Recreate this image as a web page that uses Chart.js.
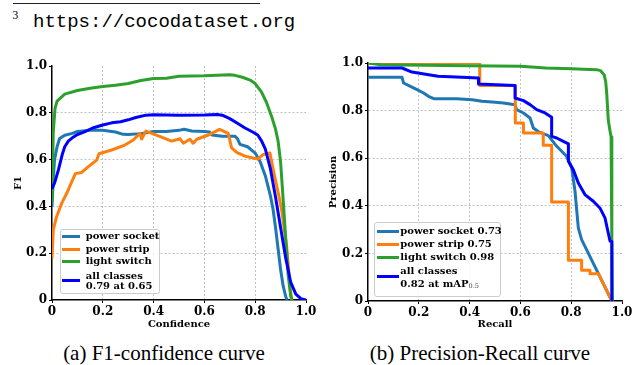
<!DOCTYPE html>
<html><head><meta charset="utf-8">
<script src="https://cdn.jsdelivr.net/npm/chart.js@4.4.1/dist/chart.umd.min.js"></script>
<style>
html,body{margin:0;padding:0;background:#fff;}
body{width:644px;height:365px;position:relative;overflow:hidden;}
.abs{position:absolute;}
#rule{left:13px;top:2.5px;width:247px;height:1px;background:#222;}
#fnmark{left:12.5px;top:9.7px;font:11.5px/11.5px 'Liberation Serif',serif;color:#000;}
#fnurl{left:33px;top:13px;font:19px/19px 'Liberation Mono',monospace;color:#000;white-space:nowrap;}
.cap{width:320px;text-align:center;font:21px/21px 'Liberation Serif',serif;color:#000;top:343.4px;white-space:nowrap;}
.legend{background:rgba(255,255,255,0.8);border:1px solid #cccccc;border-radius:3px;box-sizing:border-box;}
.lg-line{position:absolute;height:3px;}
.lg-text{position:absolute;font:bold 10px/12px 'DejaVu Serif',serif;color:#000;white-space:nowrap;}
.lg-text sub{font-size:6.5px;font-weight:normal;color:#444;vertical-align:-1px;}
</style></head><body>

<div id="rule" class="abs"></div>
<div id="fnmark" class="abs">3</div>
<div id="fnurl" class="abs">https://cocodataset.org</div>

<canvas id="c1" class="abs" width="320" height="280" style="left:0;top:50px;width:320px;height:280px"></canvas>
<canvas id="c2" class="abs" width="324" height="280" style="left:320px;top:50px;width:324px;height:280px"></canvas>

<div class="cap abs" style="left:4px">(a) F1-confidence curve</div>
<div class="cap abs" style="left:320px">(b) Precision-Recall curve</div>

<script>
// ---------- data ----------
const seriesNames = ['power socket', 'power strip', 'light switch', 'all classes'];
const seriesColors = ['#1f77b4', '#ff7f0e', '#2ca02c', '#0000ff'];
const apValues = ['0.73', '0.75', '0.98'];
const f1Best = '0.79 at 0.65';
const mapLabel = '0.82 at mAP';
const mapSub = '0.5';
const tickValues = [0, 0.2, 0.4, 0.6, 0.8, 1.0];
const tickLabels = ['0', '0.2', '0.4', '0.6', '0.8', '1.0'];

// F1 vs confidence: [confidence, F1]
const f1Socket = [[0,0.40],[0.005,0.52],[0.01,0.60],[0.02,0.655],[0.03,0.69],[0.05,0.704],[0.08,0.712],[0.1,0.72],[0.15,0.725],[0.2,0.725],[0.25,0.718],[0.28,0.708],[0.3,0.707],[0.35,0.711],[0.4,0.72],[0.45,0.72],[0.5,0.725],[0.52,0.73],[0.55,0.722],[0.6,0.72],[0.62,0.718],[0.63,0.705],[0.67,0.70],[0.72,0.70],[0.73,0.69],[0.74,0.665],[0.77,0.655],[0.8,0.628],[0.82,0.59],[0.84,0.53],[0.86,0.445],[0.87,0.39],[0.88,0.31],[0.89,0.22],[0.9,0.13],[0.91,0.06],[0.92,0.015],[0.926,0]];
const f1Strip = [[0,0.178],[0.005,0.3],[0.018,0.356],[0.038,0.413],[0.058,0.456],[0.078,0.506],[0.092,0.54],[0.117,0.545],[0.143,0.57],[0.176,0.598],[0.185,0.625],[0.235,0.641],[0.287,0.662],[0.32,0.684],[0.346,0.712],[0.353,0.688],[0.37,0.722],[0.419,0.701],[0.471,0.679],[0.504,0.689],[0.517,0.67],[0.543,0.687],[0.556,0.67],[0.57,0.687],[0.615,0.705],[0.66,0.729],[0.694,0.712],[0.707,0.65],[0.727,0.631],[0.76,0.615],[0.8,0.605],[0.81,0.602],[0.832,0.622],[0.858,0.628],[0.871,0.556],[0.891,0.456],[0.904,0.385],[0.924,0.228],[0.937,0.057],[0.944,0]];
const f1Switch = [[0,0.42],[0.005,0.72],[0.012,0.82],[0.02,0.85],[0.05,0.88],[0.1,0.895],[0.15,0.905],[0.2,0.912],[0.25,0.918],[0.3,0.925],[0.35,0.938],[0.4,0.947],[0.45,0.948],[0.5,0.956],[0.6,0.958],[0.7,0.963],[0.72,0.96],[0.75,0.952],[0.78,0.94],[0.8,0.925],[0.825,0.888],[0.845,0.843],[0.865,0.783],[0.88,0.73],[0.89,0.68],[0.9,0.59],[0.91,0.43],[0.92,0.265],[0.93,0.105],[0.94,0.015],[0.945,0]];
const f1All = [[0,0.475],[0.01,0.5],[0.025,0.555],[0.04,0.62],[0.05,0.655],[0.065,0.68],[0.08,0.693],[0.1,0.707],[0.13,0.72],[0.16,0.735],[0.2,0.748],[0.235,0.757],[0.27,0.762],[0.3,0.77],[0.33,0.78],[0.37,0.79],[0.4,0.792],[0.5,0.79],[0.6,0.791],[0.65,0.793],[0.67,0.79],[0.7,0.775],[0.73,0.755],[0.76,0.735],[0.79,0.718],[0.81,0.705],[0.825,0.68],[0.84,0.645],[0.86,0.56],[0.88,0.44],[0.9,0.31],[0.92,0.18],[0.94,0.075],[0.96,0.025],[0.98,0.006],[1.0,0]];

// Precision vs recall: [recall, precision]
const prSocket = [[0,0.94],[0.134,0.94],[0.14,0.916],[0.167,0.902],[0.193,0.888],[0.219,0.874],[0.238,0.86],[0.259,0.85],[0.35,0.85],[0.41,0.846],[0.449,0.839],[0.501,0.835],[0.533,0.832],[0.579,0.825],[0.585,0.804],[0.612,0.79],[0.638,0.769],[0.651,0.727],[0.67,0.712],[0.71,0.695],[0.743,0.65],[0.782,0.608],[0.802,0.559],[0.815,0.461],[0.828,0.307],[0.841,0.258],[0.96,0]];
const prStrip = [[0,1.0],[0.44,1.0],[0.44,0.905],[0.58,0.905],[0.58,0.748],[0.612,0.748],[0.612,0.706],[0.69,0.706],[0.69,0.654],[0.723,0.654],[0.723,0.416],[0.789,0.416],[0.789,0.171],[0.841,0.171],[0.841,0.129],[0.874,0.129],[0.874,0.115],[0.907,0.115],[0.96,0]];
const prSwitch = [[0,1.0],[0.05,0.993],[0.3,0.99],[0.6,0.986],[0.7,0.979],[0.8,0.976],[0.9,0.972],[0.915,0.968],[0.93,0.95],[0.936,0.92],[0.94,0.87],[0.946,0.76],[0.952,0.72],[0.957,0.69],[0.96,0.25],[0.962,0]];
const prAll = [[0,0.979],[0.134,0.979],[0.173,0.962],[0.239,0.951],[0.276,0.944],[0.37,0.94],[0.435,0.937],[0.435,0.912],[0.579,0.905],[0.579,0.853],[0.612,0.842],[0.638,0.825],[0.664,0.804],[0.697,0.79],[0.723,0.772],[0.723,0.692],[0.743,0.685],[0.769,0.671],[0.789,0.66],[0.789,0.587],[0.808,0.552],[0.828,0.496],[0.854,0.447],[0.887,0.419],[0.913,0.391],[0.933,0.349],[0.953,0.251],[0.96,0.25],[0.96,0]];

// ---------- chart building ----------
const tickFont = {family: "'DejaVu Serif', serif", size: 12, weight: 'bold'};
const titleFont = {family: "'DejaVu Serif', serif", size: 10, weight: 'bold', lineHeight: 1.2};

function axis(title, isX, size) {
  return {
    type: 'linear', min: 0, max: 1,
    afterBuildTicks: s => { s.ticks = tickValues.map(v => ({value: v})); },
    afterFit: s => { if (isX) s.height = size; else s.width = size; },
    ticks: {callback: (v, i) => tickLabels[i], font: tickFont, color: '#000', padding: 2, maxRotation: 0, autoSkip: false},
    grid: {
      color: c => (c.tick && (c.tick.value === 0 || c.tick.value === 1)) ? 'rgba(0,0,0,0)' : '#b0b0b0',
      lineWidth: 0.8, tickLength: 3, tickColor: '#000', tickWidth: 1
    },
    border: {display: true, color: '#000', width: 1.5, dash: [2, 2]},
    title: {display: true, text: title, font: titleFont, color: '#000', padding: 0}
  };
}

function makeChart(id, seriesList, xTitle, yTitle, pad, yW, xH) {
  const datasets = seriesList.map((pts, i) => ({
    label: seriesNames[i],
    data: pts.map(p => ({x: p[0], y: p[1]})),
    borderColor: seriesColors[i],
    backgroundColor: seriesColors[i],
    borderWidth: 3,
    pointRadius: 0,
    showLine: true,
    fill: false,
    tension: 0,
    borderJoinStyle: 'round',
    order: seriesList.length - i
  }));
  return new Chart(document.getElementById(id), {
    type: 'scatter',
    data: {datasets},
    options: {
      responsive: false, animation: false, devicePixelRatio: 1, events: [],
      layout: {padding: pad},
      plugins: {legend: {display: false}, tooltip: {enabled: false}},
      scales: {x: axis(xTitle, true, xH), y: axis(yTitle, false, yW)}
    }
  });
}

makeChart('c1', [f1Socket, f1Strip, f1Switch, f1All], 'Confidence', 'F1', {left: 12, top: 16, right: 14, bottom: 0}, 40, 30);
makeChart('c2', [prSocket, prStrip, prSwitch, prAll], 'Recall', 'Precision', {left: 7, top: 13, right: 22, bottom: 0}, 41, 29);

// ---------- legends (HTML overlay) ----------
function addDiv(cls, style, html) {
  const d = document.createElement('div');
  d.className = cls;
  Object.assign(d.style, style);
  if (html !== undefined) d.innerHTML = html;
  document.body.appendChild(d);
  return d;
}
function legend(box, lineX, lineW, textX, rows, labels) {
  addDiv('legend abs', {left: box[0] + 'px', top: box[1] + 'px', width: box[2] + 'px', height: box[3] + 'px'});
  rows.forEach((r, i) => {
    addDiv('lg-line', {left: lineX + 'px', width: lineW + 'px', top: (r.line - 1.5) + 'px', background: seriesColors[i]});
    r.text.forEach((t, j) => {
      addDiv('lg-text', {left: textX + 'px', top: (t - 6.5) + 'px'}, labels[i][j]);
    });
  });
}
legend([60, 229, 100, 65], 62, 18, 85.7,
  [{line: 236.7, text: [236.7]}, {line: 249, text: [249]}, {line: 261.7, text: [261.7]}, {line: 280.5, text: [276.2, 286.5]}],
  [[seriesNames[0]], [seriesNames[1]], [seriesNames[2]], [seriesNames[3], f1Best]]);
legend([374, 222, 127, 75], 377, 22, 400.3,
  [{line: 231.5, text: [231.5]}, {line: 244.5, text: [244.5]}, {line: 257.3, text: [257.3]}, {line: 276.5, text: [271.3, 284.7]}],
  [[seriesNames[0] + ' ' + apValues[0]], [seriesNames[1] + ' ' + apValues[1]], [seriesNames[2] + ' ' + apValues[2]], [seriesNames[3], mapLabel + '<sub>' + mapSub + '</sub>']]);
</script>
</body></html>
